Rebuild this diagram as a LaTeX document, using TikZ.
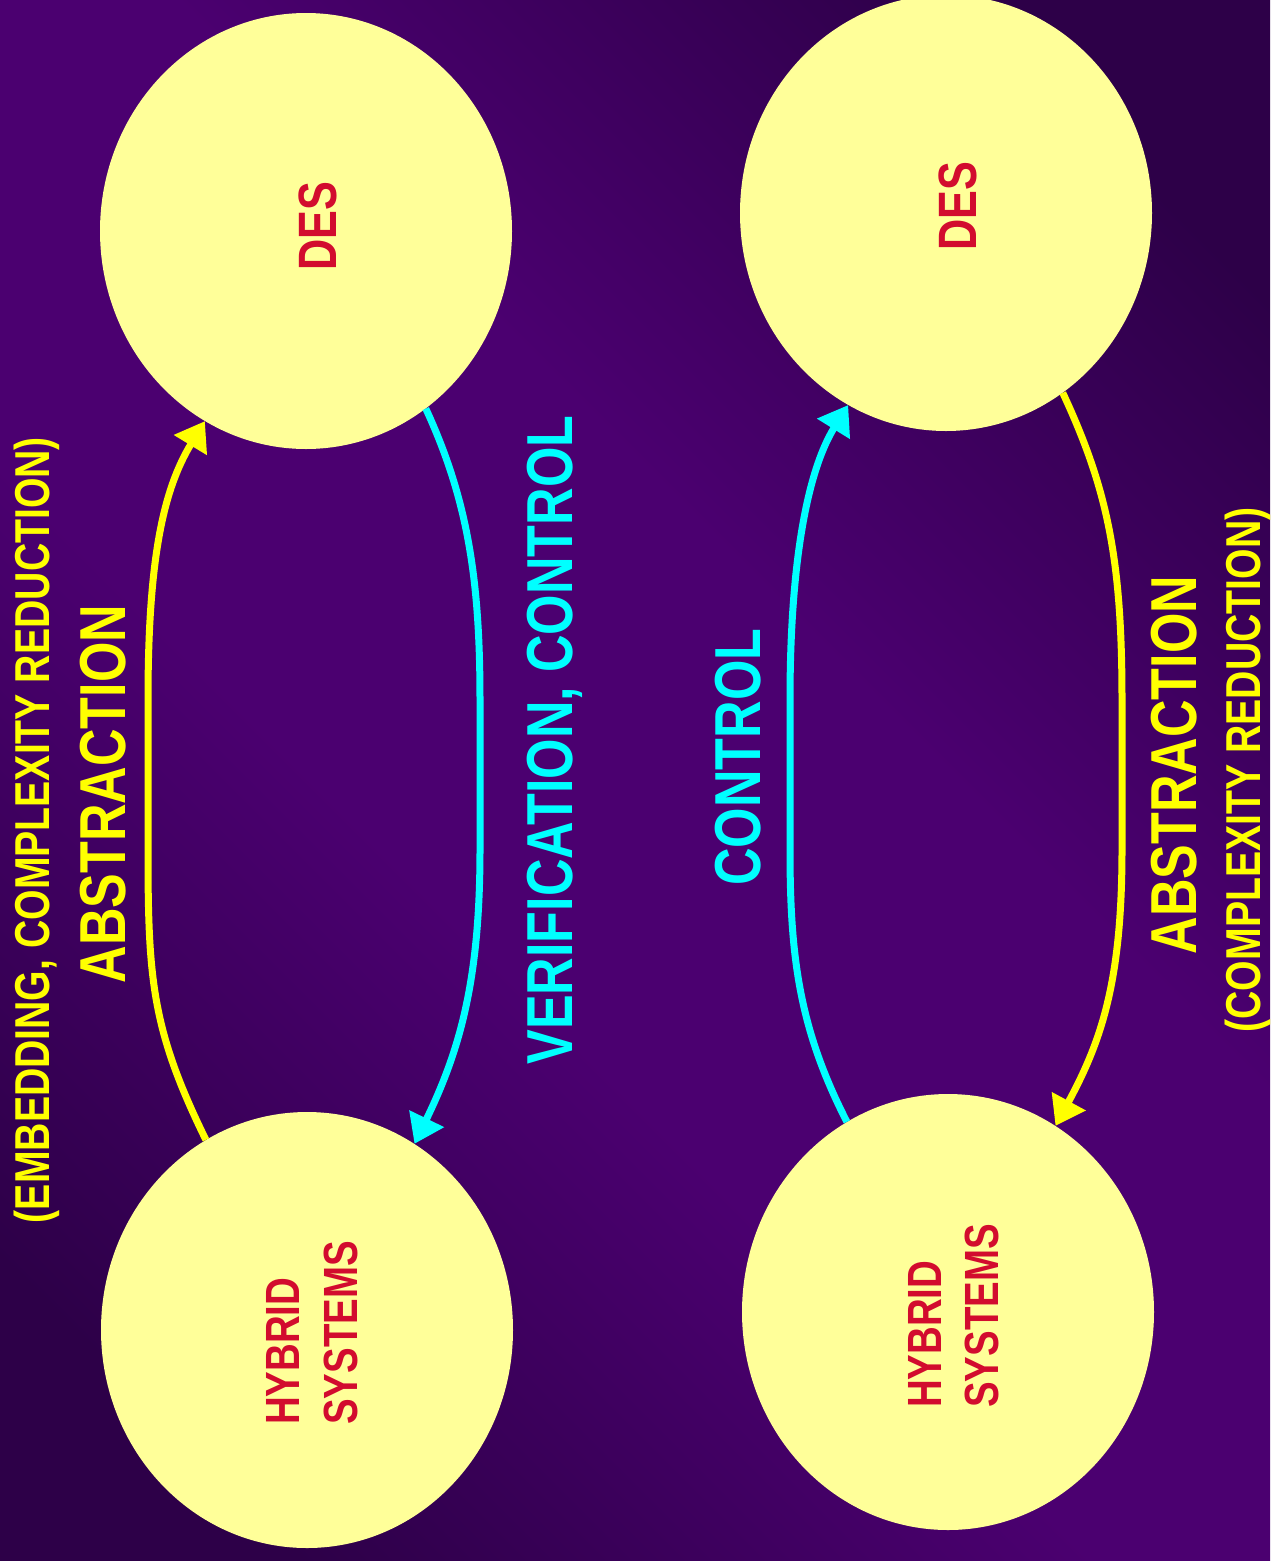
\documentclass[tikz,border=0pt]{standalone}
\usepackage{fontspec}
\newfontfamily\cf{Liberation Sans}[FakeStretch=0.8]
\usetikzlibrary{shapes.geometric,arrows.meta}
\definecolor{bgdark}{HTML}{2D0048}
\definecolor{bglight}{HTML}{4B0070}
\definecolor{discfill}{HTML}{FFFF99}
\definecolor{lblred}{HTML}{D20C2E}
\definecolor{yel}{HTML}{FFFF00}
\definecolor{cyn}{HTML}{00FFFF}
\pgfdeclareverticalshading{bgshade}{100bp}{color(0bp)=(bgdark); color(22bp)=(bgdark); color(42bp)=(bglight); color(58bp)=(bglight); color(78bp)=(bgdark); color(100bp)=(bgdark)}
\tikzset{
  disc/.style={ellipse, fill=discfill, minimum width=412, minimum height=436, inner sep=0},
  flow/.style={line width=7pt, -{Triangle[length=28pt,width=37pt]}},
  yflow/.style={flow, draw=yel},
  cflow/.style={flow, draw=cyn},
  vtext/.style={rotate=90, inner sep=0, anchor=base, font=\cf\bfseries},
  vstart/.style={rotate=90, inner sep=0, anchor=base west, font=\cf\bfseries},
}
\begin{document}
\begin{tikzpicture}[x=1pt,y=-1pt]
\useasboundingbox (0,0) rectangle (1270,1561);
\shade[shading=bgshade, shading angle=-45] (0,0) rectangle (1270,1561);

\node[disc] (desL) at (306,231) {};
\node[disc] (hybL) at (307,1330) {};
\node[disc] (desR) at (946,213) {};
\node[disc] (hybR) at (948,1312) {};

% texts in discs
\node[vtext, text=lblred, font=\cf\bfseries\fontsize{54}{60}\selectfont] (tdesL) at (336,226) {DES};
\node[vtext, text=lblred, font=\cf\bfseries\fontsize{54}{60}\selectfont] (tdesR) at (976,206) {DES};
\node[vstart, text=lblred, font=\cf\bfseries\fontsize{48}{56}\selectfont] (thybL1) at (299,1425) {HYBRID};
\node[vstart, text=lblred, font=\cf\bfseries\fontsize{48}{56}\selectfont] (thybL2) at (357,1425) {SYSTEMS};
\node[vstart, text=lblred, font=\cf\bfseries\fontsize{48}{56}\selectfont] (thybR1) at (941,1408) {HYBRID};
\node[vstart, text=lblred, font=\cf\bfseries\fontsize{48}{56}\selectfont] (thybR2) at (998,1408) {SYSTEMS};

% connectors
\draw[yflow] (hybL.118.7) .. controls (152,1030) and (148,980) .. (148,850) -- (148,700) .. controls (148,560) and (163,490) .. (desL.-118.4);
\draw[cflow] (desL.-56.9) .. controls (468,500) and (480,580) .. (480,700) -- (480,850) .. controls (480,980) and (460,1050) .. (hybL.60.8);
\draw[cflow] (hybR.118.2) .. controls (800,1030) and (790,960) .. (790,850) -- (790,700) .. controls (790,560) and (808,470) .. (desR.-117.4);
\draw[yflow] (desR.-57.5) .. controls (1108,490) and (1122,560) .. (1122,700) -- (1122,850) .. controls (1122,980) and (1102,1040) .. (hybR.60.4);

% labels
\node[vtext, text=yel, font=\cf\bfseries\fontsize{49}{56}\selectfont] (lemb) at (49,830) {(EMBEDDING, COMPLEXITY REDUCTION)};
\node[vtext, text=yel, font=\cf\bfseries\fontsize{65}{72}\selectfont] (labsL) at (125,794) {ABSTRACTION};
\node[vtext, text=cyn, font=\cf\bfseries\fontsize{65}{72}\selectfont] (lver) at (572,740) {VERIFICATION, CONTROL};
\node[vtext, text=cyn, font=\cf\bfseries\fontsize{65}{72}\selectfont] (lctl) at (760,757) {CONTROL};
\node[vtext, text=yel, font=\cf\bfseries\fontsize{65}{72}\selectfont] (labsR) at (1196,765) {ABSTRACTION};
\node[vtext, text=yel, font=\cf\bfseries\fontsize{49}{56}\selectfont] (lcomp) at (1260,770) {(COMPLEXITY REDUCTION)};
\end{tikzpicture}
\end{document}
